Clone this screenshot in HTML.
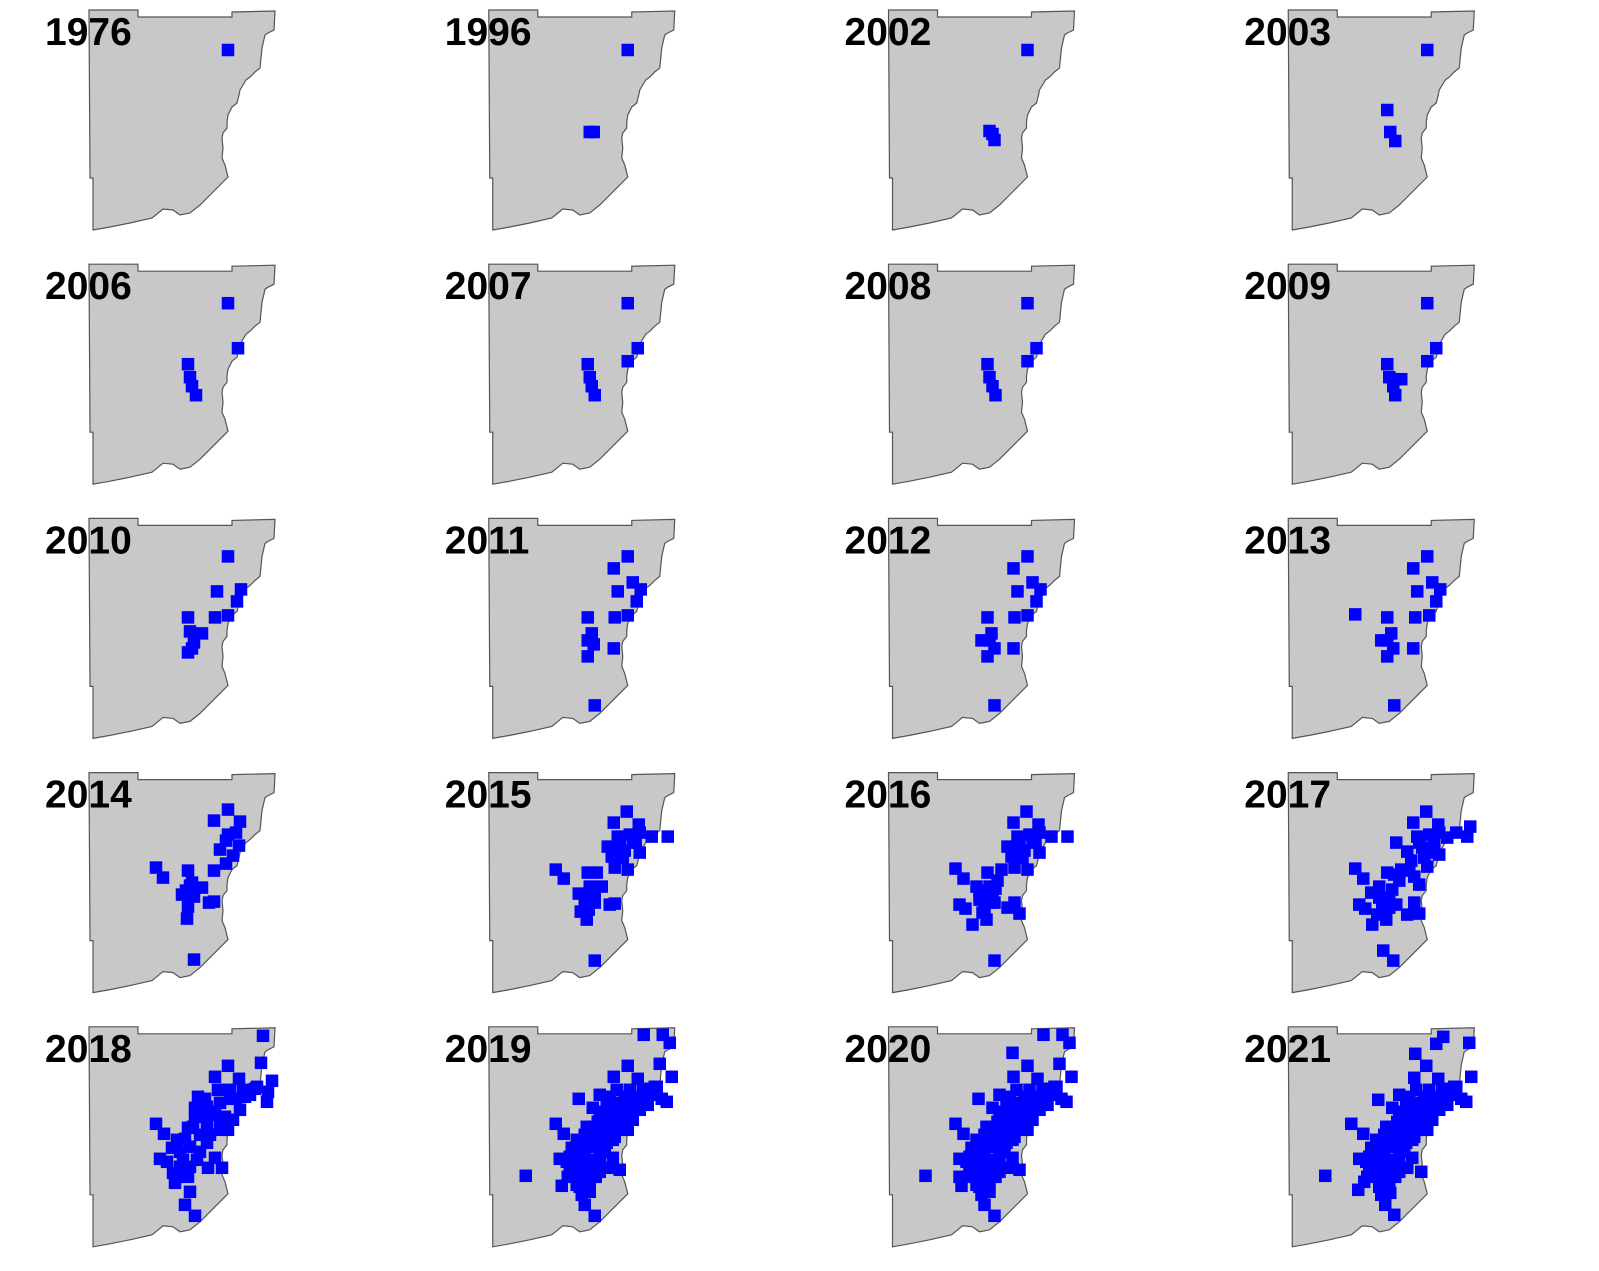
<!DOCTYPE html>
<html><head><meta charset="utf-8">
<style>
html,body{margin:0;padding:0;background:#fff;}
svg{display:block;}
text{font-family:"Liberation Sans",Arial,sans-serif;font-weight:bold;font-size:39px;fill:#000;}
</style></head>
<body>
<svg id="chart" width="1599" height="1271" viewBox="0 0 1599 1271" xmlns="http://www.w3.org/2000/svg"></svg>
<script>
const years = ["1976","1996","2002","2003","2006","2007","2008","2009","2010","2011","2012","2013","2014","2015","2016","2017","2018","2019","2020","2021"];
const pts1976 = [[228,50]];
const pts1996 = [[228,50],[190,132],[194,132]];
const pts2002 = [[228,50],[190,131],[193,134],[195,140]];
const pts2003 = [[228,50],[188,110],[191,132],[196,141]];
const pts2006 = [[228,49],[238,94],[188,110],[190,123],[192,132],[196,141]];
const pts2007 = [[228,49],[238,94],[228,107],[188,110],[190,123],[192,132],[195,141]];
const pts2008 = [[228,49],[237,94],[228,107],[188,110],[190,123],[193,132],[196,141]];
const pts2009 = [[228,49],[237,94],[228,107],[188,110],[190,123],[194,132],[196,141],[202,125]];
const pts2010 = [[228,48],[217,83],[241,81],[237,93],[228,107],[215,109],[188,109],[190,123],[202,125],[194,134],[188,144],[192,140]];
const pts2011 = [[228,48],[214,60],[233,74],[218,83],[241,81],[237,93],[228,107],[215,109],[188,109],[192,125],[188,132],[194,136],[188,148],[214,140],[195,197]];
const pts2012 = [[228,48],[214,60],[233,74],[218,83],[241,81],[237,93],[228,107],[215,109],[188,109],[192,125],[182,132],[188,148],[195,140],[214,140],[195,197],[190,132]];
const pts2013 = [[228,48],[214,60],[233,74],[218,83],[241,81],[237,93],[230,107],[216,109],[188,109],[156,106],[192,125],[182,132],[188,148],[194,140],[214,140],[195,197],[188,132]];
const pts2014 = [[228,47],[214,58],[240,59],[228,72],[239,83],[220,87],[233,93],[214,108],[226,101],[156,105],[163,115],[188,108],[190,123],[202,125],[182,132],[194,134],[188,144],[187,156],[209,140],[214,139],[194,197],[226,78],[236,70],[186,128],[192,120]];
const pts2015 = [[227,49],[214,60],[239,62],[218,74],[230,72],[240,70],[252,74],[268,74],[208,84],[220,82],[233,80],[240,90],[212,94],[223,95],[215,105],[228,107],[188,110],[197,110],[156,107],[164,116],[190,124],[202,124],[179,131],[190,134],[195,140],[181,149],[189,147],[187,157],[210,142],[215,141],[195,198],[225,88],[215,86],[185,138],[195,130],[236,80]];
const pts2016 = [[227,49],[214,60],[239,62],[218,74],[230,72],[240,70],[252,74],[268,74],[208,84],[220,82],[233,80],[240,90],[212,94],[223,95],[215,105],[228,107],[188,110],[202,107],[156,106],[164,116],[177,124],[190,124],[180,137],[193,134],[183,150],[160,142],[166,146],[173,162],[187,157],[208,145],[215,140],[220,151],[195,140],[186,130],[195,198],[180,128],[190,140],[185,145],[198,118],[225,88],[215,86],[236,80],[196,126]];
const pts2017 = [[227,49],[214,60],[239,62],[257,70],[271,64],[268,74],[197,80],[218,74],[230,72],[240,70],[208,89],[223,85],[240,92],[228,104],[215,114],[220,122],[202,107],[188,110],[156,106],[164,116],[172,130],[180,124],[193,127],[160,142],[166,146],[173,162],[187,157],[183,144],[197,142],[208,152],[220,151],[215,140],[190,135],[184,188],[194,198],[212,98],[232,90],[200,118],[180,135],[190,145],[178,152],[195,112],[210,108],[225,95],[235,80],[248,75],[220,80]];
const pts2018 = [[263,19],[261,46],[228,49],[215,60],[239,62],[272,64],[257,70],[267,85],[268,75],[198,80],[218,73],[230,73],[243,73],[195,91],[207,90],[220,86],[240,93],[233,103],[222,113],[228,113],[193,110],[188,111],[207,106],[156,107],[164,117],[177,123],[172,131],[190,130],[207,126],[160,142],[167,145],[173,156],[175,166],[188,160],[183,143],[197,143],[208,151],[222,151],[215,141],[190,175],[185,188],[195,199],[200,118],[212,98],[180,150],[230,82],[250,78],[180,135],[185,122],[195,100],[203,98],[215,95],[225,100],[235,82],[245,80],[210,118],[200,135],[190,150],[178,160],[220,108],[205,82],[255,72]];
const pts2019 = [[244,18],[263,18],[270,26],[260,47],[228,49],[214,60],[238,62],[272,60],[257,70],[267,85],[179,82],[200,78],[217,73],[230,73],[243,73],[193,91],[207,90],[220,86],[240,93],[233,103],[222,113],[228,113],[193,110],[187,110],[207,106],[156,107],[164,117],[177,123],[172,131],[190,130],[207,126],[160,142],[167,145],[173,156],[177,168],[162,169],[188,160],[183,143],[197,143],[208,151],[220,153],[213,141],[190,175],[185,188],[195,199],[126,159],[180,170],[200,133],[213,123],[223,106],[200,100],[210,80],[250,78],[185,150],[195,120],[175,150],[180,140],[185,135],[190,145],[195,150],[200,140],[205,135],[185,125],[195,125],[200,115],[205,110],[210,115],[215,105],[210,100],[220,100],[225,95],[230,90],[235,85],[240,80],[245,75],[250,72],[255,70],[225,80],[215,90],[205,95],[198,105],[180,160],[190,165],[200,155],[170,150],[178,132],[185,118],[248,88],[262,82],[170,140],[168,160],[182,178],[196,160],[215,120],[230,100],[210,92]];
const pts2020 = [[244,18],[263,18],[270,26],[213,36],[260,47],[228,49],[214,60],[238,62],[272,60],[257,70],[267,85],[179,82],[200,78],[217,73],[230,73],[243,73],[193,91],[207,90],[220,86],[240,93],[233,103],[222,113],[228,113],[193,110],[187,110],[207,106],[156,107],[164,117],[177,123],[172,131],[190,130],[207,126],[160,142],[167,145],[173,156],[177,168],[162,169],[188,160],[183,143],[197,143],[208,151],[220,153],[213,141],[190,175],[185,188],[195,199],[126,159],[180,170],[200,133],[213,123],[223,106],[200,100],[210,80],[250,78],[185,150],[195,120],[175,150],[180,140],[185,135],[190,145],[195,150],[200,140],[205,135],[185,125],[195,125],[200,115],[205,110],[210,115],[215,105],[210,100],[220,100],[225,95],[230,90],[235,85],[240,80],[245,75],[250,72],[255,70],[225,80],[215,90],[205,95],[198,105],[180,160],[190,165],[200,155],[170,150],[178,132],[185,118],[248,88],[262,82],[170,140],[168,160],[182,178],[196,160],[215,120],[230,100],[210,92],[160,160],[176,145],[204,125]];
const pts2021 = [[244,20],[237,27],[270,26],[216,37],[227,49],[215,61],[239,62],[272,60],[257,70],[267,85],[179,83],[200,78],[217,73],[230,73],[243,73],[193,91],[207,90],[220,86],[240,93],[233,103],[222,113],[228,113],[193,110],[187,110],[207,106],[152,107],[164,117],[177,123],[172,131],[190,130],[207,126],[160,142],[167,145],[173,156],[159,173],[188,160],[183,143],[197,143],[208,151],[222,155],[213,141],[191,176],[186,188],[195,198],[126,159],[180,170],[200,133],[213,123],[223,106],[200,100],[210,80],[250,78],[185,150],[195,120],[175,150],[180,140],[185,135],[190,145],[195,150],[200,140],[205,135],[185,125],[195,125],[200,115],[205,110],[210,115],[215,105],[210,100],[220,100],[225,95],[230,90],[235,85],[240,80],[245,75],[250,72],[255,70],[225,80],[215,90],[205,95],[198,105],[180,160],[190,165],[200,155],[170,150],[178,132],[185,118],[248,88],[262,82],[170,140],[168,160],[182,178],[196,160],[215,120],[230,100],[210,92],[165,165],[176,145],[204,125]];
const pointSets = [pts1976,pts1996,pts2002,pts2003,pts2006,pts2007,pts2008,pts2009,pts2010,pts2011,pts2012,pts2013,pts2014,pts2015,pts2016,pts2017,pts2018,pts2019,pts2020,pts2021];

const NS = "http://www.w3.org/2000/svg";
const svg = document.getElementById("chart");
const COLW = 399.75, ROWH = 254.2, SQ = 12.5;
function xScale(col, v){ return col*COLW + v; }
function yScale(row, v){ return row*ROWH + v; }
const outline = "M89,10 L138,10 L138,17 L232,17 L232,12 L275,11 L274,30 L268,33 L265,35 L262,48 L261,58 L260,68 L255,72 L250,77 L246,80 L243,85 L240,90 L239,95 L237,103 L232,107 L230,111 L228,115 L227,122 L227,128 L223,133 L222,138 L223,148 L222,158 L225,165 L228,177 L220,185 L215,190 L210,195 L200,205 L190,213 L180,215 L173,210 L163,209 L157,214 L152,218 L130,223 L110,227 L93,230 L93,178 L90,178 Z";

years.forEach((yr, i) => {
  const col = i % 4, row = Math.floor(i / 4);
  const g = document.createElementNS(NS, "g");
  g.setAttribute("transform", "translate(" + xScale(col,0) + "," + yScale(row,0) + ")");
  
  
  const p = document.createElementNS(NS, "path");
  p.setAttribute("d", outline);
  p.setAttribute("fill", "#c8c8c8");
  p.setAttribute("stroke", "#555");
  p.setAttribute("stroke-width", "1.2");
  
  
  g.appendChild(p);
  pointSets[i].forEach(pt => {
    const r = document.createElementNS(NS, "rect");
    r.setAttribute("x", pt[0] - SQ/2);
    r.setAttribute("y", pt[1] - SQ/2);
    r.setAttribute("width", SQ);
    r.setAttribute("height", SQ);
    r.setAttribute("fill", "#0000ff");
    
    
    g.appendChild(r);
  });
  const t = document.createElementNS(NS, "text");
  t.setAttribute("x", 45);
  t.setAttribute("y", 45);
  t.textContent = yr;
  
  
  g.appendChild(t);
  svg.appendChild(g);
});
</script>
</body></html>
